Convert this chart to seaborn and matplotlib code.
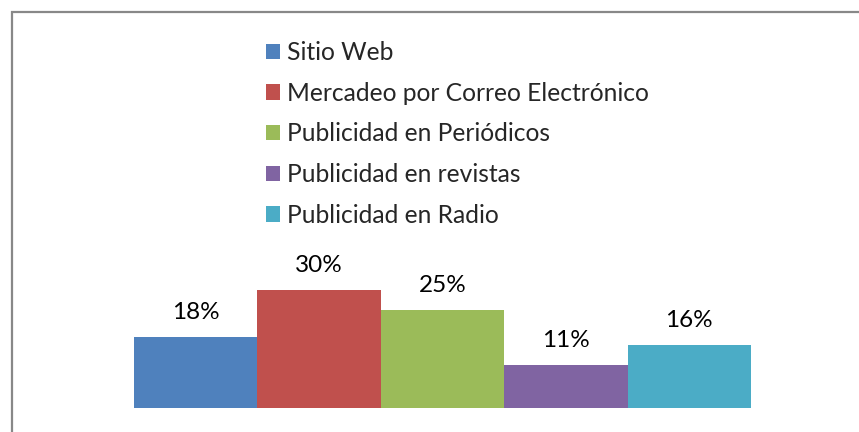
import matplotlib.pyplot as plt
import pandas as pd
import seaborn as sns

# Data
categorias = ['Sitio Web', 'Mercadeo por Correo Electrónico',
              'Publicidad en Periódicos', 'Publicidad en revistas',
              'Publicidad en Radio']
porcentajes = [18, 30, 25, 11, 16]
colores = ['#4F81BD', '#C0504D', '#9BBB59', '#8064A2', '#4BACC6']

df = pd.DataFrame({'categoria': categorias, 'valor': porcentajes})

sns.set_style('white')
plt.rcParams['font.family'] = ['Lato', 'DejaVu Sans']

W, H = 859, 432
fig = plt.figure(figsize=(W / 100, H / 100), dpi=100)
# plot area in pixels: bars span x 134..751, baseline at y 408
ax = fig.add_axes([134 / W, (H - 408) / H, 617 / W, 137.5 / H])

sns.barplot(data=df, x='categoria', y='valor', hue='categoria',
            palette=colores, width=1.0, saturation=1, linewidth=0,
            legend=True, ax=ax)
ax.set_xlim(-0.5, 4.5)
ax.set_ylim(0, 35)
ax.axis('off')

for cont in ax.containers:
  ax.bar_label(cont, labels=[f'{v:.0f}%' for v in cont.datavalues],
               padding=10, fontsize=17.5, color='black')

handles, labels = ax.get_legend_handles_labels()
ax.legend(handles, labels, loc='upper left',
          bbox_to_anchor=(266 / W, 1 - 41 / H), bbox_transform=fig.transFigure,
          frameon=False, fontsize=17.7, handlelength=0.58, handleheight=0.58,
          handletextpad=0.29, labelspacing=0.72, borderpad=0, borderaxespad=0)

# outer frame (runs off the right and bottom edges)
frame = plt.Rectangle((12 / W, -0.05), 1.0, 1 - 12 / H + 0.05,
                      transform=fig.transFigure, fill=False,
                      edgecolor='#888888', linewidth=1.6)
fig.patches.append(frame)

fig.savefig('out.png', dpi=100)
